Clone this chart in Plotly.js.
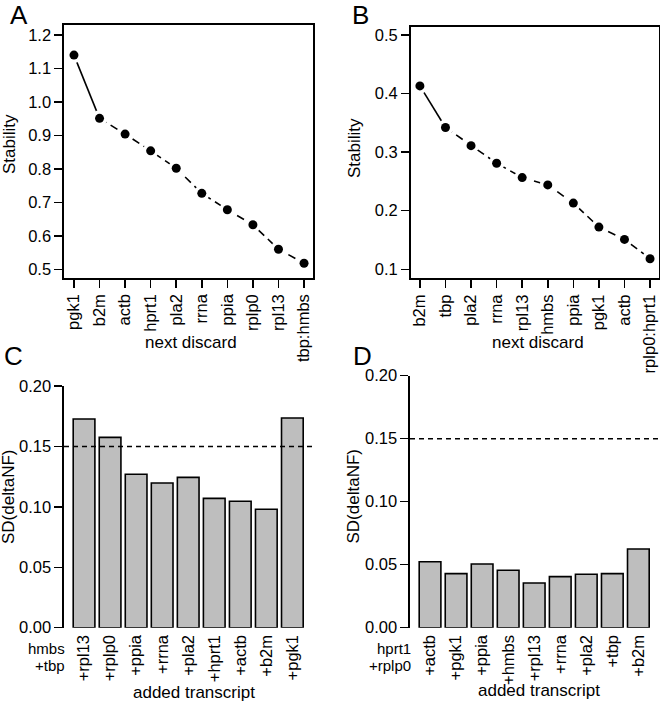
<!DOCTYPE html>
<html>
<head>
<meta charset="utf-8">
<script src="https://cdn.plot.ly/plotly-3.0.1.min.js"></script>
<style>html,body{margin:0;padding:0;background:#fff;}#chart{width:660px;height:701px;}</style>
</head>
<body>
<div id="chart"></div>
<script>
// Panel A data
const catsA = ["pgk1","b2m","actb","hprt1","pla2","rrna","ppia","rplp0","rpl13","tbp:hmbs"];
const valsA = [1.140,0.951,0.904,0.854,0.802,0.727,0.678,0.633,0.560,0.518];
// Panel B data
const catsB = ["b2m","tbp","pla2","rrna","rpl13","hmbs","ppia","pgk1","actb","rplp0:hprt1"];
const valsB = [0.413,0.342,0.311,0.281,0.2565,0.244,0.213,0.172,0.151,0.118];
// Panel C data
const catsC = ["+rpl13","+rplp0","+ppia","+rrna","+pla2","+hprt1","+actb","+b2m","+pgk1"];
const valsC = [0.1727,0.1575,0.127,0.1197,0.1244,0.107,0.1046,0.098,0.1735];
const baseC = ["hmbs","+tbp"];
// Panel D data
const catsD = ["+actb","+pgk1","+ppia","+hmbs","+rpl13","+rrna","+pla2","+tbp","+b2m"];
const valsD = [0.0524,0.0429,0.0506,0.0456,0.0355,0.0405,0.0424,0.0429,0.0625];
const baseD = ["hprt1","+rplp0"];
const threshold = 0.15;

const W = 660, H = 701;
const px = v => v / W;
const py = v => 1 - v / H;
const FONT = "Liberation Sans, Arial, sans-serif";
const tickFont = {family: FONT, size: 16.5, color: "#000"};
const TS = 17;

function lineTraces(cats, vals, xa, ya) {
  return [
    {x: cats.slice(0,2), y: vals.slice(0,2), mode: "lines", line: {color:"#000", width:1.6}, xaxis: xa, yaxis: ya, hoverinfo:"skip"},
    {x: cats.slice(1), y: vals.slice(1), mode: "lines", line: {color:"#000", width:1.6, dash:"8px,5px"}, xaxis: xa, yaxis: ya, hoverinfo:"skip"},
    {x: cats, y: vals, mode: "markers", marker: {color:"#fff", size:16}, xaxis: xa, yaxis: ya, hoverinfo:"skip"},
    {x: cats, y: vals, mode: "markers", marker: {color:"#000", size:9}, xaxis: xa, yaxis: ya}
  ];
}
function barTrace(cats, vals, xa, ya) {
  return {x: cats, y: vals, type: "bar", width: 0.833, marker: {color:"#bebebe", line:{color:"#000", width:1.6}}, xaxis: xa, yaxis: ya};
}

const data = [
  ...lineTraces(catsA, valsA, "x", "y"),
  ...lineTraces(catsB, valsB, "x2", "y2"),
  barTrace(catsC, valsC, "x3", "y3"),
  barTrace(catsD, valsD, "x4", "y4")
];

const boxX = (dom, rng, anchor) => ({domain: dom, range: rng, anchor: anchor, type:"category",
  showline:true, mirror:true, linecolor:"#000", linewidth:1.6, ticks:"outside", ticklen:8, tickwidth:1.5, tickcolor:"#000",
  tickangle:-90, tickfont: tickFont, showgrid:false, zeroline:false, fixedrange:true});
const boxY = (dom, rng, anchor, dt, fmt) => ({domain: dom, range: rng, anchor: anchor,
  showline:true, mirror:true, linecolor:"#000", linewidth:1.6, ticks:"outside", ticklen:8, tickwidth:1.5, tickcolor:"#000",
  dtick: dt, tick0: 0, tickformat: fmt, tickfont: tickFont, showgrid:false, zeroline:false, fixedrange:true});
const barX = (dom, anchor) => ({domain: dom, range: [-0.77, 8.77], anchor: anchor, type:"category",
  showline:false, ticks:"", tickangle:-90, tickfont: tickFont, showgrid:false, zeroline:false, fixedrange:true, ticklabelstandoff: 3});
const barY = (dom, anchor) => ({domain: dom, range: [0, 0.2], anchor: anchor,
  showline:true, linecolor:"#000", linewidth:1.6, ticks:"outside", ticklen:8, tickwidth:1.5, tickcolor:"#000",
  dtick: 0.05, tick0: 0, tickformat: ".2f", tickfont: tickFont, showgrid:false, zeroline:false, fixedrange:true});

const ann = (text, x, y, opts) => Object.assign({text: text, x: px(x), y: py(y), xref:"paper", yref:"paper",
  showarrow:false, xanchor:"center", yanchor:"middle", font:{family: FONT, size:TS, color:"#000"}}, opts || {});
const letterFont = {family: FONT, size: 26, color: "#000"};
const baseFont = {family: FONT, size: 15, color: "#000"};

const annotations = [
  ann("A", 18.5, 15, {font: letterFont}),
  ann("B", 360.5, 15, {font: letterFont}),
  ann("C", 13.5, 356.5, {font: letterFont}),
  ann("D", 362, 356.5, {font: letterFont}),
  ann("Stability", 9, 144, {textangle:-90}),
  ann("Stability", 354, 148, {textangle:-90}),
  ann("next discard", 191, 342),
  ann("next discard", 538, 342),
  ann("SD(deltaNF)", 8, 497, {textangle:-90}),
  ann("SD(deltaNF)", 352.5, 497, {textangle:-90}),
  ann("added transcript", 194, 692),
  ann("added transcript", 539, 690),
  ann(baseC[0], 66.5, 648.5, {xanchor:"right", font: baseFont}),
  ann(baseC[1], 66.5, 665.5, {xanchor:"right", font: baseFont}),
  ann(baseD[0], 413.5, 648.5, {xanchor:"right", font: baseFont}),
  ann(baseD[1], 413.5, 665.5, {xanchor:"right", font: baseFont})
];

const layout = {
  width: W, height: H,
  margin: {l:0, r:0, t:0, b:0},
  paper_bgcolor: "#fff", plot_bgcolor: "#fff",
  showlegend: false,
  font: {family: FONT, color:"#000"},
  xaxis: boxX([px(64), px(313)], [-0.39, 9.35], "y"),
  yaxis: boxY([py(278), py(25)], [0.474, 1.23], "x", 0.1, ".1f"),
  xaxis2: boxX([px(410.7), px(659)], [-0.36, 9.35], "y2"),
  yaxis2: boxY([py(278.3), py(26.7)], [0.0846, 0.514], "x2", 0.1, ".1f"),
  xaxis3: barX([px(64), px(312.4)], "y3"),
  yaxis3: barY([py(627.7), py(386)], "x3"),
  xaxis4: barX([px(410), px(658.4)], "y4"),
  yaxis4: barY([py(627.7), py(375.7)], "x4"),
  shapes: [
    {type:"line", xref:"x3 domain", yref:"y3", x0:0, x1:1, y0:threshold, y1:threshold, line:{color:"#000", width:1.4, dash:"5px,4px"}},
    {type:"line", xref:"x4 domain", yref:"y4", x0:0, x1:1, y0:threshold, y1:threshold, line:{color:"#000", width:1.4, dash:"5px,4px"}}
  ],
  annotations: annotations
};

Plotly.newPlot("chart", data, layout, {staticPlot:true, displayModeBar:false});
</script>
</body>
</html>
